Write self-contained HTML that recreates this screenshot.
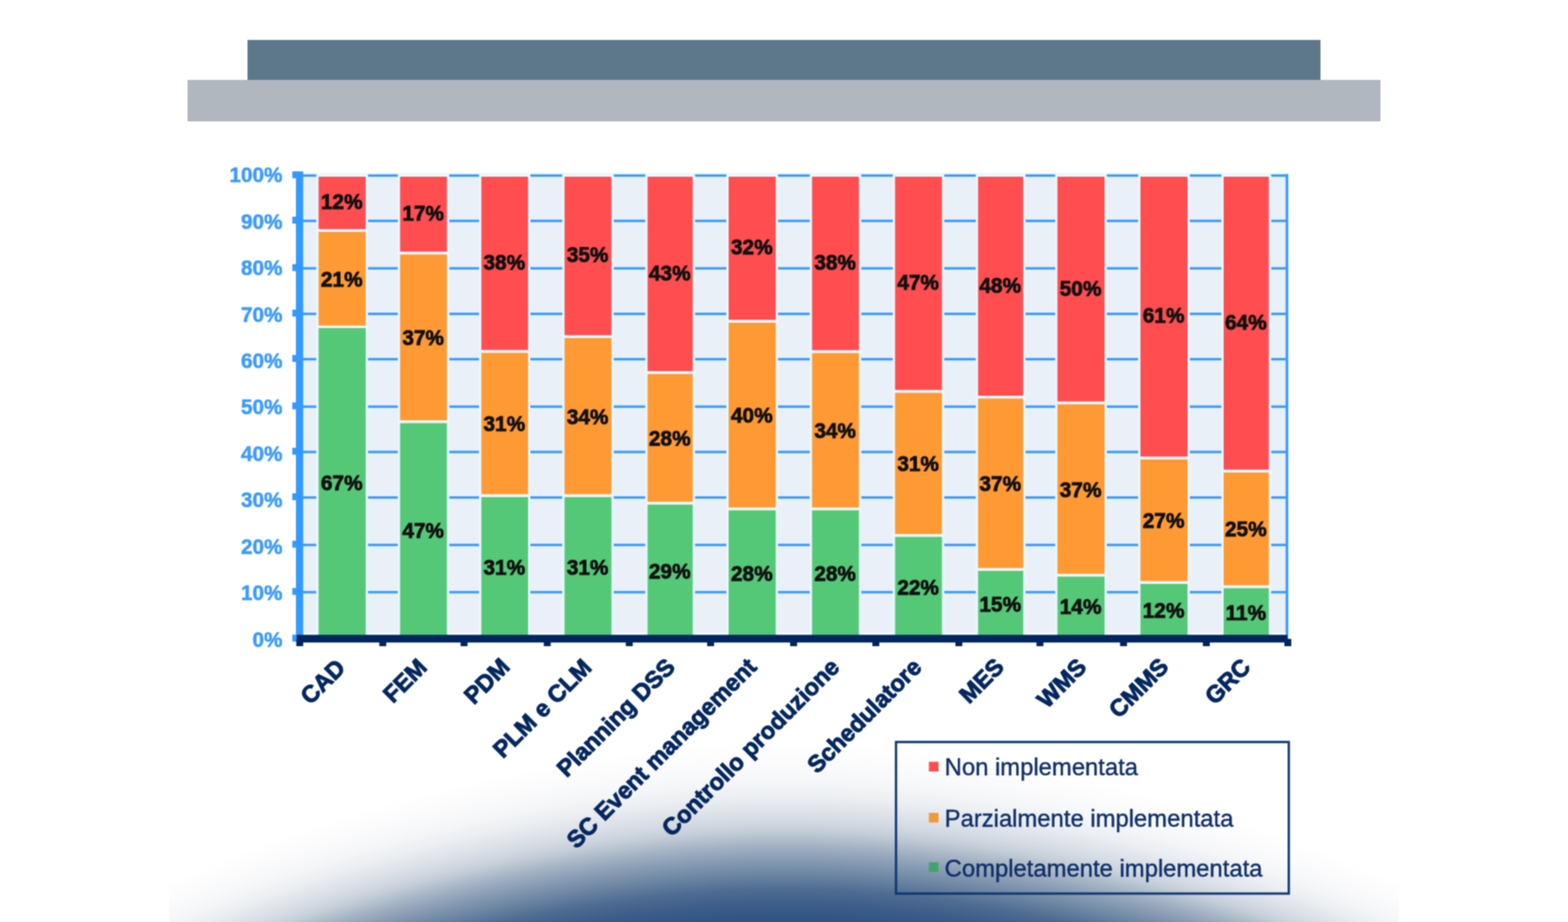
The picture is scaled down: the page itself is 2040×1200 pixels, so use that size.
<!DOCTYPE html>
<html lang="it"><head><meta charset="utf-8"><title>Grafico implementazione</title>
<style>
html,body{margin:0;padding:0;background:#fff;}
body{width:2040px;height:1200px;overflow:hidden;position:relative;font-family:"Liberation Sans",sans-serif;}
svg{position:absolute;left:0;top:0;display:block;}
.yl{font-weight:bold;font-size:27px;fill:#3b9bff;stroke:#3b9bff;stroke-width:0.6px;text-anchor:end;}
.dl{font-weight:bold;font-size:27px;fill:#111111;stroke:#111111;stroke-width:1.0px;text-anchor:middle;}
.xl{font-weight:bold;font-size:30.8px;fill:#04275f;stroke:#04275f;stroke-width:1.2px;text-anchor:end;}
.lg{font-size:31px;fill:#0f2f6a;stroke:#0f2f6a;stroke-width:0.5px;}
</style></head><body>
<svg width="2040" height="1200" viewBox="0 0 2040 1200" role="img" aria-label="Grafico a barre impilate">
<defs>
<linearGradient id="vglow" x1="0" y1="0" x2="0" y2="1">
<stop offset="0.0" stop-color="#ffffff"/>
<stop offset="0.0417" stop-color="#ffffff"/>
<stop offset="0.075" stop-color="#fcfcfd"/>
<stop offset="0.1083" stop-color="#f8f9fb"/>
<stop offset="0.1333" stop-color="#f3f5f7"/>
<stop offset="0.1583" stop-color="#eceff3"/>
<stop offset="0.1833" stop-color="#e2e6ec"/>
<stop offset="0.2083" stop-color="#d6dce4"/>
<stop offset="0.2333" stop-color="#c6cfd9"/>
<stop offset="0.2617" stop-color="#a9b7c7"/>
<stop offset="0.295" stop-color="#8a9db5"/>
<stop offset="0.3283" stop-color="#6d86a3"/>
<stop offset="0.3617" stop-color="#4f6c92"/>
<stop offset="0.3967" stop-color="#3c5d89"/>
<stop offset="0.4333" stop-color="#2f5283"/>
<stop offset="0.4833" stop-color="#294c7f"/>
<stop offset="1.0" stop-color="#294c7f"/>
</linearGradient>
<filter id="hblur" x="0" y="0" width="2040" height="1200" filterUnits="userSpaceOnUse" color-interpolation-filters="sRGB"><feGaussianBlur stdDeviation="5 0"/></filter>
<clipPath id="slideclip"><rect x="220" y="0" width="1600" height="1200"/></clipPath>
<filter id="soft" x="0" y="0" width="2040" height="1200" filterUnits="userSpaceOnUse" color-interpolation-filters="sRGB"><feConvolveMatrix order="3" kernelMatrix="1 2 1 2 4 2 1 2 1" edgeMode="duplicate" preserveAlpha="false"/></filter>
</defs>
<rect x="0" y="0" width="2040" height="1200" fill="#ffffff"/>
<g clip-path="url(#slideclip)"><g filter="url(#hblur)">
<rect x="188" y="1137.36" width="8.5" height="600" fill="url(#vglow)"/>
<rect x="196" y="1133.45" width="8.5" height="600" fill="url(#vglow)"/>
<rect x="204" y="1129.59" width="8.5" height="600" fill="url(#vglow)"/>
<rect x="212" y="1125.79" width="8.5" height="600" fill="url(#vglow)"/>
<rect x="220" y="1122.04" width="8.5" height="600" fill="url(#vglow)"/>
<rect x="228" y="1118.34" width="8.5" height="600" fill="url(#vglow)"/>
<rect x="236" y="1114.7" width="8.5" height="600" fill="url(#vglow)"/>
<rect x="244" y="1111.11" width="8.5" height="600" fill="url(#vglow)"/>
<rect x="252" y="1107.57" width="8.5" height="600" fill="url(#vglow)"/>
<rect x="260" y="1104.08" width="8.5" height="600" fill="url(#vglow)"/>
<rect x="268" y="1100.64" width="8.5" height="600" fill="url(#vglow)"/>
<rect x="276" y="1097.25" width="8.5" height="600" fill="url(#vglow)"/>
<rect x="284" y="1093.91" width="8.5" height="600" fill="url(#vglow)"/>
<rect x="292" y="1090.61" width="8.5" height="600" fill="url(#vglow)"/>
<rect x="300" y="1087.36" width="8.5" height="600" fill="url(#vglow)"/>
<rect x="308" y="1084.15" width="8.5" height="600" fill="url(#vglow)"/>
<rect x="316" y="1080.99" width="8.5" height="600" fill="url(#vglow)"/>
<rect x="324" y="1077.88" width="8.5" height="600" fill="url(#vglow)"/>
<rect x="332" y="1074.8" width="8.5" height="600" fill="url(#vglow)"/>
<rect x="340" y="1071.77" width="8.5" height="600" fill="url(#vglow)"/>
<rect x="348" y="1068.78" width="8.5" height="600" fill="url(#vglow)"/>
<rect x="356" y="1065.84" width="8.5" height="600" fill="url(#vglow)"/>
<rect x="364" y="1062.93" width="8.5" height="600" fill="url(#vglow)"/>
<rect x="372" y="1060.07" width="8.5" height="600" fill="url(#vglow)"/>
<rect x="380" y="1057.24" width="8.5" height="600" fill="url(#vglow)"/>
<rect x="388" y="1054.45" width="8.5" height="600" fill="url(#vglow)"/>
<rect x="396" y="1051.7" width="8.5" height="600" fill="url(#vglow)"/>
<rect x="404" y="1048.99" width="8.5" height="600" fill="url(#vglow)"/>
<rect x="412" y="1046.32" width="8.5" height="600" fill="url(#vglow)"/>
<rect x="420" y="1043.68" width="8.5" height="600" fill="url(#vglow)"/>
<rect x="428" y="1041.08" width="8.5" height="600" fill="url(#vglow)"/>
<rect x="436" y="1038.52" width="8.5" height="600" fill="url(#vglow)"/>
<rect x="444" y="1035.99" width="8.5" height="600" fill="url(#vglow)"/>
<rect x="452" y="1033.49" width="8.5" height="600" fill="url(#vglow)"/>
<rect x="460" y="1031.03" width="8.5" height="600" fill="url(#vglow)"/>
<rect x="468" y="1028.61" width="8.5" height="600" fill="url(#vglow)"/>
<rect x="476" y="1026.21" width="8.5" height="600" fill="url(#vglow)"/>
<rect x="484" y="1023.86" width="8.5" height="600" fill="url(#vglow)"/>
<rect x="492" y="1021.53" width="8.5" height="600" fill="url(#vglow)"/>
<rect x="500" y="1019.24" width="8.5" height="600" fill="url(#vglow)"/>
<rect x="508" y="1016.97" width="8.5" height="600" fill="url(#vglow)"/>
<rect x="516" y="1014.74" width="8.5" height="600" fill="url(#vglow)"/>
<rect x="524" y="1012.55" width="8.5" height="600" fill="url(#vglow)"/>
<rect x="532" y="1010.38" width="8.5" height="600" fill="url(#vglow)"/>
<rect x="540" y="1008.24" width="8.5" height="600" fill="url(#vglow)"/>
<rect x="548" y="1006.14" width="8.5" height="600" fill="url(#vglow)"/>
<rect x="556" y="1004.07" width="8.5" height="600" fill="url(#vglow)"/>
<rect x="564" y="1002.02" width="8.5" height="600" fill="url(#vglow)"/>
<rect x="572" y="1000.01" width="8.5" height="600" fill="url(#vglow)"/>
<rect x="580" y="998.03" width="8.5" height="600" fill="url(#vglow)"/>
<rect x="588" y="996.08" width="8.5" height="600" fill="url(#vglow)"/>
<rect x="596" y="994.15" width="8.5" height="600" fill="url(#vglow)"/>
<rect x="604" y="992.26" width="8.5" height="600" fill="url(#vglow)"/>
<rect x="612" y="990.4" width="8.5" height="600" fill="url(#vglow)"/>
<rect x="620" y="988.57" width="8.5" height="600" fill="url(#vglow)"/>
<rect x="628" y="986.76" width="8.5" height="600" fill="url(#vglow)"/>
<rect x="636" y="984.99" width="8.5" height="600" fill="url(#vglow)"/>
<rect x="644" y="983.25" width="8.5" height="600" fill="url(#vglow)"/>
<rect x="652" y="981.53" width="8.5" height="600" fill="url(#vglow)"/>
<rect x="660" y="979.85" width="8.5" height="600" fill="url(#vglow)"/>
<rect x="668" y="978.2" width="8.5" height="600" fill="url(#vglow)"/>
<rect x="676" y="976.58" width="8.5" height="600" fill="url(#vglow)"/>
<rect x="684" y="974.98" width="8.5" height="600" fill="url(#vglow)"/>
<rect x="692" y="973.42" width="8.5" height="600" fill="url(#vglow)"/>
<rect x="700" y="971.89" width="8.5" height="600" fill="url(#vglow)"/>
<rect x="708" y="970.39" width="8.5" height="600" fill="url(#vglow)"/>
<rect x="716" y="968.92" width="8.5" height="600" fill="url(#vglow)"/>
<rect x="724" y="967.49" width="8.5" height="600" fill="url(#vglow)"/>
<rect x="732" y="966.08" width="8.5" height="600" fill="url(#vglow)"/>
<rect x="740" y="964.71" width="8.5" height="600" fill="url(#vglow)"/>
<rect x="748" y="963.37" width="8.5" height="600" fill="url(#vglow)"/>
<rect x="756" y="962.06" width="8.5" height="600" fill="url(#vglow)"/>
<rect x="764" y="960.79" width="8.5" height="600" fill="url(#vglow)"/>
<rect x="772" y="959.55" width="8.5" height="600" fill="url(#vglow)"/>
<rect x="780" y="958.34" width="8.5" height="600" fill="url(#vglow)"/>
<rect x="788" y="957.17" width="8.5" height="600" fill="url(#vglow)"/>
<rect x="796" y="956.03" width="8.5" height="600" fill="url(#vglow)"/>
<rect x="804" y="954.93" width="8.5" height="600" fill="url(#vglow)"/>
<rect x="812" y="953.86" width="8.5" height="600" fill="url(#vglow)"/>
<rect x="820" y="952.83" width="8.5" height="600" fill="url(#vglow)"/>
<rect x="828" y="951.83" width="8.5" height="600" fill="url(#vglow)"/>
<rect x="836" y="950.87" width="8.5" height="600" fill="url(#vglow)"/>
<rect x="844" y="949.95" width="8.5" height="600" fill="url(#vglow)"/>
<rect x="852" y="949.07" width="8.5" height="600" fill="url(#vglow)"/>
<rect x="860" y="948.23" width="8.5" height="600" fill="url(#vglow)"/>
<rect x="868" y="947.42" width="8.5" height="600" fill="url(#vglow)"/>
<rect x="876" y="946.65" width="8.5" height="600" fill="url(#vglow)"/>
<rect x="884" y="945.93" width="8.5" height="600" fill="url(#vglow)"/>
<rect x="892" y="945.24" width="8.5" height="600" fill="url(#vglow)"/>
<rect x="900" y="944.6" width="8.5" height="600" fill="url(#vglow)"/>
<rect x="908" y="943.99" width="8.5" height="600" fill="url(#vglow)"/>
<rect x="916" y="943.43" width="8.5" height="600" fill="url(#vglow)"/>
<rect x="924" y="942.9" width="8.5" height="600" fill="url(#vglow)"/>
<rect x="932" y="942.42" width="8.5" height="600" fill="url(#vglow)"/>
<rect x="940" y="941.99" width="8.5" height="600" fill="url(#vglow)"/>
<rect x="948" y="941.59" width="8.5" height="600" fill="url(#vglow)"/>
<rect x="956" y="941.24" width="8.5" height="600" fill="url(#vglow)"/>
<rect x="964" y="940.93" width="8.5" height="600" fill="url(#vglow)"/>
<rect x="972" y="940.67" width="8.5" height="600" fill="url(#vglow)"/>
<rect x="980" y="940.45" width="8.5" height="600" fill="url(#vglow)"/>
<rect x="988" y="940.27" width="8.5" height="600" fill="url(#vglow)"/>
<rect x="996" y="940.14" width="8.5" height="600" fill="url(#vglow)"/>
<rect x="1004" y="940.05" width="8.5" height="600" fill="url(#vglow)"/>
<rect x="1012" y="940.01" width="8.5" height="600" fill="url(#vglow)"/>
<rect x="1020" y="940.01" width="8.5" height="600" fill="url(#vglow)"/>
<rect x="1028" y="940.05" width="8.5" height="600" fill="url(#vglow)"/>
<rect x="1036" y="940.14" width="8.5" height="600" fill="url(#vglow)"/>
<rect x="1044" y="940.27" width="8.5" height="600" fill="url(#vglow)"/>
<rect x="1052" y="940.45" width="8.5" height="600" fill="url(#vglow)"/>
<rect x="1060" y="940.67" width="8.5" height="600" fill="url(#vglow)"/>
<rect x="1068" y="940.93" width="8.5" height="600" fill="url(#vglow)"/>
<rect x="1076" y="941.24" width="8.5" height="600" fill="url(#vglow)"/>
<rect x="1084" y="941.59" width="8.5" height="600" fill="url(#vglow)"/>
<rect x="1092" y="941.99" width="8.5" height="600" fill="url(#vglow)"/>
<rect x="1100" y="942.42" width="8.5" height="600" fill="url(#vglow)"/>
<rect x="1108" y="942.9" width="8.5" height="600" fill="url(#vglow)"/>
<rect x="1116" y="943.43" width="8.5" height="600" fill="url(#vglow)"/>
<rect x="1124" y="943.99" width="8.5" height="600" fill="url(#vglow)"/>
<rect x="1132" y="944.6" width="8.5" height="600" fill="url(#vglow)"/>
<rect x="1140" y="945.24" width="8.5" height="600" fill="url(#vglow)"/>
<rect x="1148" y="945.93" width="8.5" height="600" fill="url(#vglow)"/>
<rect x="1156" y="946.65" width="8.5" height="600" fill="url(#vglow)"/>
<rect x="1164" y="947.42" width="8.5" height="600" fill="url(#vglow)"/>
<rect x="1172" y="948.23" width="8.5" height="600" fill="url(#vglow)"/>
<rect x="1180" y="949.07" width="8.5" height="600" fill="url(#vglow)"/>
<rect x="1188" y="949.95" width="8.5" height="600" fill="url(#vglow)"/>
<rect x="1196" y="950.87" width="8.5" height="600" fill="url(#vglow)"/>
<rect x="1204" y="951.83" width="8.5" height="600" fill="url(#vglow)"/>
<rect x="1212" y="952.83" width="8.5" height="600" fill="url(#vglow)"/>
<rect x="1220" y="953.86" width="8.5" height="600" fill="url(#vglow)"/>
<rect x="1228" y="954.93" width="8.5" height="600" fill="url(#vglow)"/>
<rect x="1236" y="956.03" width="8.5" height="600" fill="url(#vglow)"/>
<rect x="1244" y="957.17" width="8.5" height="600" fill="url(#vglow)"/>
<rect x="1252" y="958.34" width="8.5" height="600" fill="url(#vglow)"/>
<rect x="1260" y="959.55" width="8.5" height="600" fill="url(#vglow)"/>
<rect x="1268" y="960.79" width="8.5" height="600" fill="url(#vglow)"/>
<rect x="1276" y="962.06" width="8.5" height="600" fill="url(#vglow)"/>
<rect x="1284" y="963.37" width="8.5" height="600" fill="url(#vglow)"/>
<rect x="1292" y="964.71" width="8.5" height="600" fill="url(#vglow)"/>
<rect x="1300" y="966.08" width="8.5" height="600" fill="url(#vglow)"/>
<rect x="1308" y="967.49" width="8.5" height="600" fill="url(#vglow)"/>
<rect x="1316" y="968.92" width="8.5" height="600" fill="url(#vglow)"/>
<rect x="1324" y="970.39" width="8.5" height="600" fill="url(#vglow)"/>
<rect x="1332" y="971.89" width="8.5" height="600" fill="url(#vglow)"/>
<rect x="1340" y="973.42" width="8.5" height="600" fill="url(#vglow)"/>
<rect x="1348" y="974.98" width="8.5" height="600" fill="url(#vglow)"/>
<rect x="1356" y="976.58" width="8.5" height="600" fill="url(#vglow)"/>
<rect x="1364" y="978.2" width="8.5" height="600" fill="url(#vglow)"/>
<rect x="1372" y="979.85" width="8.5" height="600" fill="url(#vglow)"/>
<rect x="1380" y="981.53" width="8.5" height="600" fill="url(#vglow)"/>
<rect x="1388" y="983.25" width="8.5" height="600" fill="url(#vglow)"/>
<rect x="1396" y="984.99" width="8.5" height="600" fill="url(#vglow)"/>
<rect x="1404" y="986.76" width="8.5" height="600" fill="url(#vglow)"/>
<rect x="1412" y="988.57" width="8.5" height="600" fill="url(#vglow)"/>
<rect x="1420" y="990.4" width="8.5" height="600" fill="url(#vglow)"/>
<rect x="1428" y="992.26" width="8.5" height="600" fill="url(#vglow)"/>
<rect x="1436" y="994.15" width="8.5" height="600" fill="url(#vglow)"/>
<rect x="1444" y="996.08" width="8.5" height="600" fill="url(#vglow)"/>
<rect x="1452" y="998.03" width="8.5" height="600" fill="url(#vglow)"/>
<rect x="1460" y="1000.01" width="8.5" height="600" fill="url(#vglow)"/>
<rect x="1468" y="1002.02" width="8.5" height="600" fill="url(#vglow)"/>
<rect x="1476" y="1004.07" width="8.5" height="600" fill="url(#vglow)"/>
<rect x="1484" y="1006.14" width="8.5" height="600" fill="url(#vglow)"/>
<rect x="1492" y="1008.24" width="8.5" height="600" fill="url(#vglow)"/>
<rect x="1500" y="1010.38" width="8.5" height="600" fill="url(#vglow)"/>
<rect x="1508" y="1012.55" width="8.5" height="600" fill="url(#vglow)"/>
<rect x="1516" y="1014.74" width="8.5" height="600" fill="url(#vglow)"/>
<rect x="1524" y="1016.97" width="8.5" height="600" fill="url(#vglow)"/>
<rect x="1532" y="1019.24" width="8.5" height="600" fill="url(#vglow)"/>
<rect x="1540" y="1021.53" width="8.5" height="600" fill="url(#vglow)"/>
<rect x="1548" y="1023.86" width="8.5" height="600" fill="url(#vglow)"/>
<rect x="1556" y="1026.21" width="8.5" height="600" fill="url(#vglow)"/>
<rect x="1564" y="1028.61" width="8.5" height="600" fill="url(#vglow)"/>
<rect x="1572" y="1031.03" width="8.5" height="600" fill="url(#vglow)"/>
<rect x="1580" y="1033.49" width="8.5" height="600" fill="url(#vglow)"/>
<rect x="1588" y="1035.99" width="8.5" height="600" fill="url(#vglow)"/>
<rect x="1596" y="1038.52" width="8.5" height="600" fill="url(#vglow)"/>
<rect x="1604" y="1041.08" width="8.5" height="600" fill="url(#vglow)"/>
<rect x="1612" y="1043.68" width="8.5" height="600" fill="url(#vglow)"/>
<rect x="1620" y="1046.32" width="8.5" height="600" fill="url(#vglow)"/>
<rect x="1628" y="1048.99" width="8.5" height="600" fill="url(#vglow)"/>
<rect x="1636" y="1051.7" width="8.5" height="600" fill="url(#vglow)"/>
<rect x="1644" y="1054.45" width="8.5" height="600" fill="url(#vglow)"/>
<rect x="1652" y="1057.24" width="8.5" height="600" fill="url(#vglow)"/>
<rect x="1660" y="1060.07" width="8.5" height="600" fill="url(#vglow)"/>
<rect x="1668" y="1062.93" width="8.5" height="600" fill="url(#vglow)"/>
<rect x="1676" y="1065.84" width="8.5" height="600" fill="url(#vglow)"/>
<rect x="1684" y="1068.78" width="8.5" height="600" fill="url(#vglow)"/>
<rect x="1692" y="1071.77" width="8.5" height="600" fill="url(#vglow)"/>
<rect x="1700" y="1074.8" width="8.5" height="600" fill="url(#vglow)"/>
<rect x="1708" y="1077.88" width="8.5" height="600" fill="url(#vglow)"/>
<rect x="1716" y="1080.99" width="8.5" height="600" fill="url(#vglow)"/>
<rect x="1724" y="1084.15" width="8.5" height="600" fill="url(#vglow)"/>
<rect x="1732" y="1087.36" width="8.5" height="600" fill="url(#vglow)"/>
<rect x="1740" y="1090.61" width="8.5" height="600" fill="url(#vglow)"/>
<rect x="1748" y="1093.91" width="8.5" height="600" fill="url(#vglow)"/>
<rect x="1756" y="1097.25" width="8.5" height="600" fill="url(#vglow)"/>
<rect x="1764" y="1100.64" width="8.5" height="600" fill="url(#vglow)"/>
<rect x="1772" y="1104.08" width="8.5" height="600" fill="url(#vglow)"/>
<rect x="1780" y="1107.57" width="8.5" height="600" fill="url(#vglow)"/>
<rect x="1788" y="1111.11" width="8.5" height="600" fill="url(#vglow)"/>
<rect x="1796" y="1114.7" width="8.5" height="600" fill="url(#vglow)"/>
<rect x="1804" y="1118.34" width="8.5" height="600" fill="url(#vglow)"/>
<rect x="1812" y="1122.04" width="8.5" height="600" fill="url(#vglow)"/>
<rect x="1820" y="1125.79" width="8.5" height="600" fill="url(#vglow)"/>
<rect x="1828" y="1129.59" width="8.5" height="600" fill="url(#vglow)"/>
<rect x="1836" y="1133.45" width="8.5" height="600" fill="url(#vglow)"/>
<rect x="1844" y="1137.36" width="8.5" height="600" fill="url(#vglow)"/>
</g></g>
<g filter="url(#soft)">
<rect x="322" y="52" width="1396" height="52" fill="#5d788a"/>
<rect x="244" y="104" width="1552" height="54" fill="#b0b7be"/>
<rect x="394" y="225.0" width="1283.5" height="601.5" fill="#e9f8fd"/>
<rect x="394" y="226.5" width="1282" height="600.0" fill="#e9f0f8"/>
<rect x="394" y="226.9" width="1281" height="3.2" fill="#3b9bff"/>
<rect x="394" y="285.9" width="1281" height="3.2" fill="#3b9bff"/>
<rect x="394" y="347.65" width="1281" height="3.2" fill="#3b9bff"/>
<rect x="394" y="406.9" width="1281" height="3.2" fill="#3b9bff"/>
<rect x="394" y="465.9" width="1281" height="3.2" fill="#3b9bff"/>
<rect x="394" y="527.65" width="1281" height="3.2" fill="#3b9bff"/>
<rect x="394" y="586.65" width="1281" height="3.2" fill="#3b9bff"/>
<rect x="394" y="645.9" width="1281" height="3.2" fill="#3b9bff"/>
<rect x="394" y="707.65" width="1281" height="3.2" fill="#3b9bff"/>
<rect x="394" y="769.15" width="1281" height="3.2" fill="#3b9bff"/>
<rect x="1672.6" y="226.5" width="3.4" height="600.0" fill="#3b9bff"/>
<rect x="394" y="823.2" width="1278.6" height="3.5" fill="#f6fbfe"/>
<rect x="411.5" y="226" width="67.25" height="600.5" fill="#e9f8fd"/>
<rect x="414.5" y="230" width="61.25" height="68.25" fill="#ff4d50"/>
<rect x="414.5" y="301.75" width="61.25" height="122.0" fill="#ff9933"/>
<rect x="414.5" y="427" width="61.25" height="400" fill="#55c878"/>
<rect x="517.5" y="226" width="67.0" height="600.5" fill="#e9f8fd"/>
<rect x="520.5" y="230" width="61.0" height="97.5" fill="#ff4d50"/>
<rect x="520.5" y="331.25" width="61.0" height="215.75" fill="#ff9933"/>
<rect x="520.5" y="550.75" width="61.0" height="276.25" fill="#55c878"/>
<rect x="623.25" y="226" width="66.75" height="600.5" fill="#e9f8fd"/>
<rect x="626.25" y="230" width="60.75" height="225.5" fill="#ff4d50"/>
<rect x="626.25" y="459.25" width="60.75" height="184.0" fill="#ff9933"/>
<rect x="626.25" y="647" width="60.75" height="180" fill="#55c878"/>
<rect x="731.5" y="226" width="67.0" height="600.5" fill="#e9f8fd"/>
<rect x="734.5" y="230" width="61.0" height="206.25" fill="#ff4d50"/>
<rect x="734.5" y="440" width="61.0" height="203.25" fill="#ff9933"/>
<rect x="734.5" y="647" width="61.0" height="180" fill="#55c878"/>
<rect x="839.5" y="226" width="64.75" height="600.5" fill="#e9f8fd"/>
<rect x="842.5" y="230" width="58.75" height="253" fill="#ff4d50"/>
<rect x="842.5" y="486.75" width="58.75" height="166.25" fill="#ff9933"/>
<rect x="842.5" y="656.75" width="58.75" height="170.25" fill="#55c878"/>
<rect x="945" y="226" width="67.25" height="600.5" fill="#e9f8fd"/>
<rect x="948" y="230" width="61.25" height="186.25" fill="#ff4d50"/>
<rect x="948" y="420" width="61.25" height="240.5" fill="#ff9933"/>
<rect x="948" y="664.25" width="61.25" height="162.75" fill="#55c878"/>
<rect x="1053.5" y="226" width="67.0" height="600.5" fill="#e9f8fd"/>
<rect x="1056.5" y="230" width="61.0" height="225.75" fill="#ff4d50"/>
<rect x="1056.5" y="459.5" width="61.0" height="201.0" fill="#ff9933"/>
<rect x="1056.5" y="664.25" width="61.0" height="162.75" fill="#55c878"/>
<rect x="1161.5" y="226" width="67.0" height="600.5" fill="#e9f8fd"/>
<rect x="1164.5" y="230" width="61.0" height="277.5" fill="#ff4d50"/>
<rect x="1164.5" y="511.25" width="61.0" height="183.75" fill="#ff9933"/>
<rect x="1164.5" y="698.75" width="61.0" height="128.25" fill="#55c878"/>
<rect x="1269.5" y="226" width="64.75" height="600.5" fill="#e9f8fd"/>
<rect x="1272.5" y="230" width="58.75" height="285" fill="#ff4d50"/>
<rect x="1272.5" y="518.75" width="58.75" height="220.5" fill="#ff9933"/>
<rect x="1272.5" y="743" width="58.75" height="84" fill="#55c878"/>
<rect x="1372.75" y="226" width="67.25" height="600.5" fill="#e9f8fd"/>
<rect x="1375.75" y="230" width="61.25" height="292.5" fill="#ff4d50"/>
<rect x="1375.75" y="526.25" width="61.25" height="220.5" fill="#ff9933"/>
<rect x="1375.75" y="750.5" width="61.25" height="76.5" fill="#55c878"/>
<rect x="1480.75" y="226" width="67.25" height="600.5" fill="#e9f8fd"/>
<rect x="1483.75" y="230" width="61.25" height="364.25" fill="#ff4d50"/>
<rect x="1483.75" y="598" width="61.25" height="158.25" fill="#ff9933"/>
<rect x="1483.75" y="760" width="61.25" height="67" fill="#55c878"/>
<rect x="1589" y="226" width="64.75" height="600.5" fill="#e9f8fd"/>
<rect x="1592" y="230" width="58.75" height="381.25" fill="#ff4d50"/>
<rect x="1592" y="615" width="58.75" height="146.75" fill="#ff9933"/>
<rect x="1592" y="765.5" width="58.75" height="61.5" fill="#55c878"/>
<rect x="385" y="223" width="9.5" height="610" fill="#3399ff"/>
<rect x="380.3" y="223.0" width="6" height="9" fill="#3399ff"/>
<rect x="380.3" y="282.0" width="6" height="9" fill="#3399ff"/>
<rect x="380.3" y="343.75" width="6" height="9" fill="#3399ff"/>
<rect x="380.3" y="403.0" width="6" height="9" fill="#3399ff"/>
<rect x="380.3" y="462.0" width="6" height="9" fill="#3399ff"/>
<rect x="380.3" y="523.75" width="6" height="9" fill="#3399ff"/>
<rect x="380.3" y="582.75" width="6" height="9" fill="#3399ff"/>
<rect x="380.3" y="642.0" width="6" height="9" fill="#3399ff"/>
<rect x="380.3" y="703.75" width="6" height="9" fill="#3399ff"/>
<rect x="380.3" y="765.25" width="6" height="9" fill="#3399ff"/>
<rect x="380.3" y="826.0" width="6" height="9" fill="#3399ff"/>
<rect x="386" y="826.25" width="1289.5" height="10" fill="#00255f"/>
<rect x="385.5" y="831.5" width="9" height="9.5" fill="#00255f"/>
<rect x="493.5" y="831.5" width="9" height="9.5" fill="#00255f"/>
<rect x="599.25" y="831.5" width="9" height="9.5" fill="#00255f"/>
<rect x="707.5" y="831.5" width="9" height="9.5" fill="#00255f"/>
<rect x="814.25" y="831.5" width="9" height="9.5" fill="#00255f"/>
<rect x="920.0" y="831.5" width="9" height="9.5" fill="#00255f"/>
<rect x="1028.0" y="831.5" width="9" height="9.5" fill="#00255f"/>
<rect x="1135.0" y="831.5" width="9" height="9.5" fill="#00255f"/>
<rect x="1243.0" y="831.5" width="9" height="9.5" fill="#00255f"/>
<rect x="1348.5" y="831.5" width="9" height="9.5" fill="#00255f"/>
<rect x="1457.25" y="831.5" width="9" height="9.5" fill="#00255f"/>
<rect x="1565.0" y="831.5" width="9" height="9.5" fill="#00255f"/>
<rect x="1671.0" y="831.5" width="9" height="9.5" fill="#00255f"/>
<text class="yl" x="367.5" y="237.27">100%</text>
<text class="yl" x="367.5" y="297.7">90%</text>
<text class="yl" x="367.5" y="358.13">80%</text>
<text class="yl" x="367.5" y="418.56">70%</text>
<text class="yl" x="367.5" y="478.99">60%</text>
<text class="yl" x="367.5" y="539.42">50%</text>
<text class="yl" x="367.5" y="599.85">40%</text>
<text class="yl" x="367.5" y="660.28">30%</text>
<text class="yl" x="367.5" y="720.71">20%</text>
<text class="yl" x="367.5" y="781.14">10%</text>
<text class="yl" x="367.5" y="841.57">0%</text>
<text class="dl" x="444.62" y="272.42">12%</text>
<text class="dl" x="444.62" y="372.75">21%</text>
<text class="dl" x="444.62" y="637.7">67%</text>
<text class="dl" x="550.5" y="287.05">17%</text>
<text class="dl" x="550.5" y="449.12">37%</text>
<text class="dl" x="550.5" y="699.58">47%</text>
<text class="dl" x="656.12" y="351.05">38%</text>
<text class="dl" x="656.12" y="561.25">31%</text>
<text class="dl" x="656.12" y="747.7">31%</text>
<text class="dl" x="764.5" y="341.42">35%</text>
<text class="dl" x="764.5" y="551.63">34%</text>
<text class="dl" x="764.5" y="747.7">31%</text>
<text class="dl" x="871.38" y="364.8">43%</text>
<text class="dl" x="871.38" y="579.88">28%</text>
<text class="dl" x="871.38" y="752.58">29%</text>
<text class="dl" x="978.12" y="331.42">32%</text>
<text class="dl" x="978.12" y="550.25">40%</text>
<text class="dl" x="978.12" y="756.33">28%</text>
<text class="dl" x="1086.5" y="351.17">38%</text>
<text class="dl" x="1086.5" y="570.0">34%</text>
<text class="dl" x="1086.5" y="756.33">28%</text>
<text class="dl" x="1194.5" y="377.05">47%</text>
<text class="dl" x="1194.5" y="613.13">31%</text>
<text class="dl" x="1194.5" y="773.58">22%</text>
<text class="dl" x="1301.38" y="380.8">48%</text>
<text class="dl" x="1301.38" y="639.0">37%</text>
<text class="dl" x="1301.38" y="795.7">15%</text>
<text class="dl" x="1405.88" y="384.55">50%</text>
<text class="dl" x="1405.88" y="646.5">37%</text>
<text class="dl" x="1405.88" y="799.45">14%</text>
<text class="dl" x="1513.88" y="420.42">61%</text>
<text class="dl" x="1513.88" y="687.13">27%</text>
<text class="dl" x="1513.88" y="804.2">12%</text>
<text class="dl" x="1620.88" y="428.92">64%</text>
<text class="dl" x="1620.88" y="698.38">25%</text>
<text class="dl" x="1620.88" y="806.95">11%</text>
<text class="xl" transform="translate(451.0 871.0) rotate(-45)" x="0" y="0">CAD</text>
<text class="xl" transform="translate(557.2 870.4) rotate(-45)" x="0" y="0">FEM</text>
<text class="xl" transform="translate(664.9 869.6) rotate(-45)" x="0" y="0">PDM</text>
<text class="xl" transform="translate(771.5 870.6) rotate(-45)" x="0" y="0">PLM e CLM</text>
<text class="xl" transform="translate(880.0 869.9) rotate(-45)" x="0" y="0">Planning DSS</text>
<text class="xl" transform="translate(986.0 869.8) rotate(-45)" x="0" y="0">SC Event management</text>
<text class="xl" transform="translate(1093.9 870.2) rotate(-45)" x="0" y="0">Controllo produzione</text>
<text class="xl" transform="translate(1200.9 870.1) rotate(-45)" x="0" y="0">Schedulatore</text>
<text class="xl" transform="translate(1308.0 869.8) rotate(-45)" x="0" y="0">MES</text>
<text class="xl" transform="translate(1415.2 870.0) rotate(-45)" x="0" y="0">WMS</text>
<text class="xl" transform="translate(1522.1 869.5) rotate(-45)" x="0" y="0">CMMS</text>
<text class="xl" transform="translate(1628.8 870.0) rotate(-45)" x="0" y="0">GRC</text>
<rect x="1165.75" y="965.75" width="511" height="197.25" fill="none" stroke="#0d3672" stroke-width="3"/>
<rect x="1208.5" y="991.5" width="12.5" height="12.5" fill="#ff4d50"/>
<text class="lg" x="1229" y="1008.7">Non implementata</text>
<rect x="1208.5" y="1058" width="12.5" height="12.5" fill="#f09a3a"/>
<text class="lg" x="1229" y="1076">Parzialmente implementata</text>
<rect x="1208.5" y="1122.3" width="12.5" height="12.5" fill="#3fa568"/>
<text class="lg" x="1229" y="1140.7">Completamente implementata</text>
</g>
</svg>
</body></html>
